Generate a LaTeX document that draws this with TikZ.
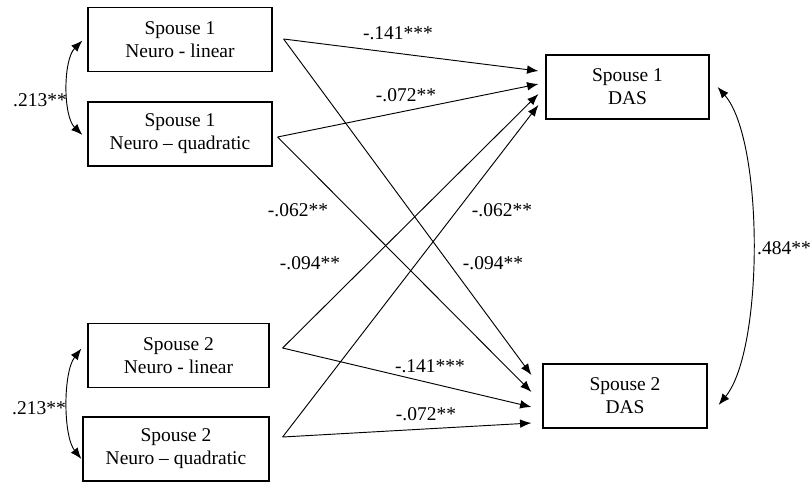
\documentclass[tikz,border=0pt]{standalone}
\usepackage{fontspec}
\setmainfont{Liberation Serif}
\usetikzlibrary{arrows.meta, calc, positioning}

\begin{document}
\begin{tikzpicture}[x=0.75pt, y=-0.75pt,
    >={Latex[length=8.5pt, width=6.5pt]},
    box/.style={draw, line width=0.9pt, minimum height=48pt, inner sep=0pt,
        align=center, font=\fontsize{14.6}{17.25}\selectfont},
    link/.style={->, line width=0.7pt},
    corr/.style={<->, line width=0.7pt},
    coef/.style={inner sep=0pt, font=\fontsize{14.6}{17.25}\selectfont}]

    \useasboundingbox (0,0) rectangle (811,482);

    % =================================================================
    % 1. CAC HOP (BIEN)
    % =================================================================
    \node[box, minimum width=138pt] (n1a) at (180,39.5) {Spouse 1\\Neuro - linear};
    \node[box, minimum width=138pt] (n1b) at (180,134) {Spouse 1\\Neuro -- quadratic};
    \node[box, minimum width=135.75pt] (n2a) at (178.5,355.5) {Spouse 2\\Neuro - linear};
    \node[box, minimum width=139.5pt] (n2b) at (176,449) {Spouse 2\\Neuro -- quadratic};

    \node[box, minimum width=122.25pt] (das1) at (627.5,87) {Spouse 1\\DAS};
    \node[box, minimum width=123pt] (das2) at (625,396) {Spouse 2\\DAS};

    % =================================================================
    % 2. DIEM DAU VA DIEM CUOI CUA MUI TEN
    % =================================================================
    \coordinate (o1a) at ($(n1a.east)+(11,-0.5)$);
    \coordinate (o1b) at ($(n1b.east)+(5,3)$);
    \coordinate (o2a) at ($(n2a.east)+(13,-7.5)$);
    \coordinate (o2b) at ($(n2b.east)+(13,-12)$);

    \coordinate (i1) at ($(das1.west)+(-7,-16)$);
    \coordinate (i2) at ($(das1.west)+(-7,-3)$);
    \coordinate (i3) at ($(das1.west)+(-7,7)$);
    \coordinate (i4) at ($(das1.west)+(-7,18)$);

    \coordinate (j1) at ($(das2.west)+(-11,-21)$);
    \coordinate (j2) at ($(das2.west)+(-11,-4)$);
    \coordinate (j3) at ($(das2.west)+(-11,11)$);
    \coordinate (j4) at ($(das2.west)+(-11,27)$);

    % =================================================================
    % 3. CAC DUONG HOI QUY
    % =================================================================
    \draw[link] (o1a) -- (i1);
    \draw[link] (o1b) -- (i2);
    \draw[link] (o2a) -- (i3);
    \draw[link] (o2b) -- (i4);

    \draw[link] (o1a) -- (j1);
    \draw[link] (o1b) -- (j2);
    \draw[link] (o2a) -- (j3);
    \draw[link] (o2b) -- (j4);

    % =================================================================
    % 4. CAC DUONG TUONG QUAN (CONG HAI DAU)
    % =================================================================
    \coordinate (t1a) at ($(n1a.west)+(-5,1)$);
    \coordinate (t1b) at ($(n1b.west)+(-5,1)$);
    \coordinate (t2a) at ($(n2a.west)+(-6,-7)$);
    \coordinate (t2b) at ($(n2b.west)+(-1,10)$);
    \coordinate (td1) at ($(das1.east)+(8,0)$);
    \coordinate (td2) at ($(das2.east)+(11,9)$);

    \draw[corr] (t1a) .. controls (63,60) and (63,116) .. (t1b);
    \draw[corr] (t2a) .. controls (63,372) and (63,436) .. (t2b);
    \draw[corr] (td1) .. controls (764,140) and (764,350) .. (td2);

    % =================================================================
    % 5. HE SO
    % =================================================================
    \node[coef] (c1) at (398,33) {-.141***};
    \node[coef] (c2) at (406,95) {-.072**};
    \node[coef] (c3) at (298,210) {-.062**};
    \node[coef] (c4) at (502,210) {-.062**};
    \node[coef] (c5) at (310,263) {-.094**};
    \node[coef] (c6) at (493,263) {-.094**};
    \node[coef] (c7) at (430,366) {-.141***};
    \node[coef] (c8) at (426,414) {-.072**};

    \node[coef] (r1) at (40,100) {.213**};
    \node[coef] (r2) at (39,408) {.213**};
    \node[coef] (r3) at (784,248) {.484**};

\end{tikzpicture}
\end{document}
